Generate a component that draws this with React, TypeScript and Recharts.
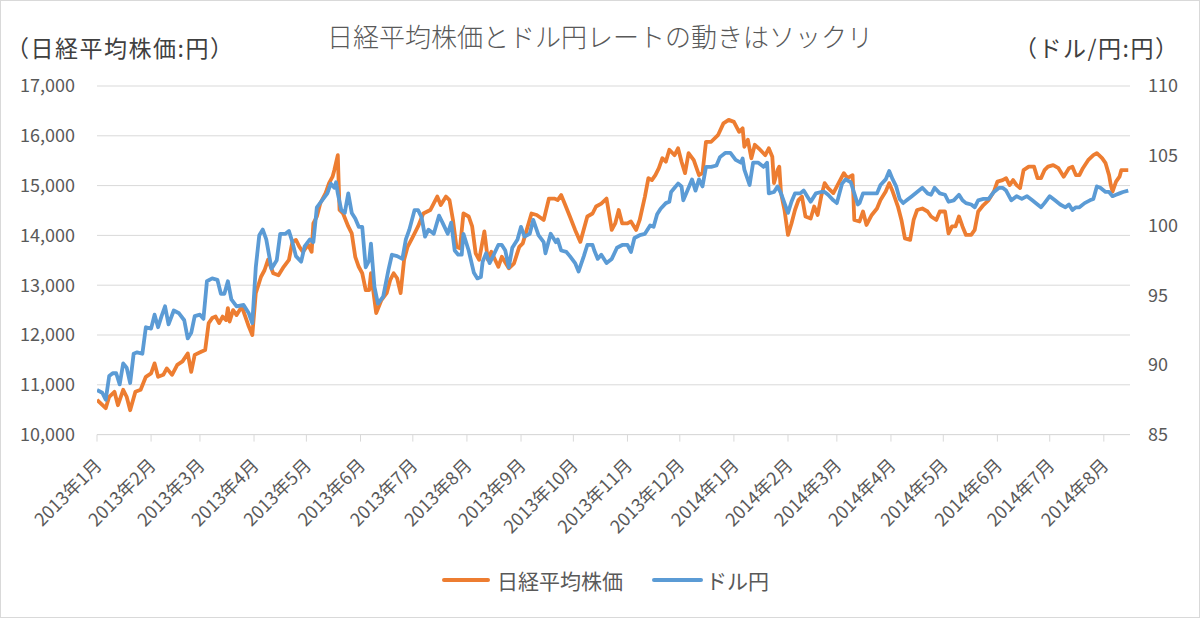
import React from 'react';
import { LineChart, Line, XAxis, YAxis, CartesianGrid } from 'recharts';

// Nikkei 225 closing levels (yen)
const nikkeiDates = [
  '2013-01-04', '2013-01-09', '2013-01-11', '2013-01-14', '2013-01-16', '2013-01-19', '2013-01-21', '2013-01-23',
  '2013-01-26', '2013-01-29', '2013-02-01', '2013-02-04', '2013-02-06', '2013-02-08', '2013-02-11', '2013-02-13',
  '2013-02-16', '2013-02-19', '2013-02-22', '2013-02-25', '2013-02-27', '2013-03-01', '2013-03-05', '2013-03-07',
  '2013-03-09', '2013-03-11', '2013-03-13', '2013-03-15', '2013-03-17', '2013-03-19', '2013-03-20', '2013-03-21',
  '2013-03-23', '2013-03-25', '2013-03-28', '2013-03-30', '2013-04-01', '2013-04-03', '2013-04-05', '2013-04-08',
  '2013-04-10', '2013-04-12', '2013-04-15', '2013-04-18', '2013-04-21', '2013-04-24', '2013-04-26', '2013-04-28',
  '2013-04-30', '2013-05-02', '2013-05-05', '2013-05-07', '2013-05-08', '2013-05-10', '2013-05-12', '2013-05-15',
  '2013-05-17', '2013-05-19', '2013-05-20', '2013-05-22', '2013-05-23', '2013-05-25', '2013-05-28', '2013-05-30',
  '2013-06-01', '2013-06-03', '2013-06-05', '2013-06-07', '2013-06-09', '2013-06-10', '2013-06-13', '2013-06-16',
  '2013-06-19', '2013-06-21', '2013-06-23', '2013-06-25', '2013-06-27', '2013-06-29', '2013-07-01', '2013-07-04',
  '2013-07-07', '2013-07-10', '2013-07-14', '2013-07-18', '2013-07-20', '2013-07-23', '2013-07-25', '2013-07-27',
  '2013-07-29', '2013-07-31', '2013-08-02', '2013-08-05', '2013-08-07', '2013-08-09', '2013-08-11', '2013-08-14',
  '2013-08-16', '2013-08-18', '2013-08-22', '2013-08-24', '2013-08-28', '2013-08-31', '2013-09-03', '2013-09-05',
  '2013-09-10', '2013-09-13', '2013-09-17', '2013-09-20', '2013-09-23', '2013-09-25', '2013-09-27', '2013-09-29',
  '2013-10-02', '2013-10-05', '2013-10-08', '2013-10-12', '2013-10-15', '2013-10-17', '2013-10-20', '2013-10-23',
  '2013-10-26', '2013-10-28', '2013-10-30', '2013-11-01', '2013-11-04', '2013-11-06', '2013-11-09', '2013-11-11',
  '2013-11-14', '2013-11-16', '2013-11-18', '2013-11-20', '2013-11-22', '2013-11-24', '2013-11-26', '2013-11-28',
  '2013-12-01', '2013-12-03', '2013-12-05', '2013-12-07', '2013-12-09', '2013-12-12', '2013-12-15', '2013-12-17',
  '2013-12-19', '2013-12-22', '2013-12-26', '2013-12-29', '2014-01-01', '2014-01-04', '2014-01-07', '2014-01-09',
  '2014-01-10', '2014-01-12', '2014-01-14', '2014-01-16', '2014-01-19', '2014-01-22', '2014-01-24', '2014-01-26',
  '2014-01-27', '2014-01-29', '2014-01-30', '2014-01-31', '2014-02-02', '2014-02-04', '2014-02-06', '2014-02-08',
  '2014-02-10', '2014-02-12', '2014-02-14', '2014-02-17', '2014-02-19', '2014-02-21', '2014-02-23', '2014-02-25',
  '2014-02-27', '2014-03-02', '2014-03-05', '2014-03-08', '2014-03-10', '2014-03-13', '2014-03-14', '2014-03-17',
  '2014-03-19', '2014-03-21', '2014-03-24', '2014-03-27', '2014-03-29', '2014-04-01', '2014-04-03', '2014-04-05',
  '2014-04-08', '2014-04-10', '2014-04-12', '2014-04-15', '2014-04-17', '2014-04-19', '2014-04-22', '2014-04-25',
  '2014-04-27', '2014-04-30', '2014-05-02', '2014-05-05', '2014-05-07', '2014-05-09', '2014-05-11', '2014-05-13',
  '2014-05-15', '2014-05-17', '2014-05-20', '2014-05-22', '2014-05-24', '2014-05-27', '2014-05-30', '2014-06-02',
  '2014-06-04', '2014-06-07', '2014-06-09', '2014-06-11', '2014-06-13', '2014-06-15', '2014-06-17', '2014-06-19',
  '2014-06-22', '2014-06-25', '2014-06-27', '2014-06-29', '2014-07-01', '2014-07-03', '2014-07-06', '2014-07-09',
  '2014-07-12', '2014-07-15', '2014-07-17', '2014-07-19', '2014-07-21', '2014-07-23', '2014-07-26', '2014-07-29',
  '2014-07-31', '2014-08-03', '2014-08-05', '2014-08-07', '2014-08-08', '2014-08-09', '2014-08-11', '2014-08-13',
  '2014-08-14', '2014-08-16', '2014-08-18',
];
const nikkeiValues = [
  10700, 10530, 10760, 10860, 10590, 10900, 10760, 10490,
  10860, 10900, 11160, 11230, 11430, 11160, 11200, 11330,
  11200, 11400, 11470, 11630, 11260, 11600, 11670, 11700,
  12240, 12340, 12370, 12240, 12370, 12300, 12540, 12270,
  12500, 12400, 12570, 12370, 12170, 12000, 12840, 13170,
  13300, 13510, 13240, 13200, 13370, 13510, 13870, 13910,
  13770, 13670, 13810, 13670, 14240, 14380, 14650, 14850,
  15050, 15180, 15310, 15610, 14510, 14440, 14180, 14040,
  13570, 13370, 13240, 12900, 12900, 13240, 12440, 12700,
  12840, 13100, 13240, 13140, 12840, 13510, 13770, 13970,
  14180, 14440, 14510, 14780, 14610, 14780, 14710, 14310,
  13770, 13740, 14440, 14380, 14180, 13640, 13510, 14080,
  13510, 13670, 13370, 13570, 13340, 13440, 13770, 13840,
  14440, 14410, 14310, 14740, 14740, 14710, 14810, 14640,
  14380, 14110, 13870, 14380, 14440, 14580, 14640, 14740,
  14110, 14240, 14510, 14240, 14240, 14280, 14110, 14310,
  14780, 15150, 15110, 15210, 15350, 15550, 15480, 15720,
  15610, 15750, 15480, 15250, 15650, 15510, 15210, 15250,
  15880, 15880, 16020, 16250, 16320, 16280, 16080, 16150,
  15780, 15920, 15550, 15820, 15720, 15610, 15750, 15580,
  15050, 15310, 15380, 14850, 14510, 14010, 14240, 14510,
  14710, 14780, 14380, 14340, 14580, 14410, 14780, 15050,
  14950, 14850, 15050, 15250, 15150, 15210, 14310, 14280,
  14480, 14210, 14410, 14540, 14710, 14880, 15050, 14880,
  14580, 14310, 13940, 13910, 14310, 14510, 14540, 14480,
  14380, 14310, 14480, 14480, 14040, 14180, 14180, 14380,
  14180, 14010, 14010, 14110, 14480, 14610, 14710, 14880,
  15080, 15110, 15150, 15010, 15110, 15010, 14950, 15310,
  15380, 15380, 15150, 15150, 15310, 15380, 15410, 15350,
  15180, 15350, 15380, 15210, 15210, 15350, 15510, 15610,
  15650, 15550, 15450, 15210, 15010, 14880, 15080, 15180,
  15310, 15310, 15310,
];

// USD/JPY rate (yen per dollar)
const usdJpyDates = [
  '2013-01-04', '2013-01-07', '2013-01-09', '2013-01-11', '2013-01-13', '2013-01-15', '2013-01-17', '2013-01-19',
  '2013-01-21', '2013-01-23', '2013-01-25', '2013-01-27', '2013-01-30', '2013-02-01', '2013-02-04', '2013-02-06',
  '2013-02-08', '2013-02-10', '2013-02-12', '2013-02-14', '2013-02-17', '2013-02-20', '2013-02-23', '2013-02-25',
  '2013-02-27', '2013-03-01', '2013-03-04', '2013-03-06', '2013-03-08', '2013-03-11', '2013-03-14', '2013-03-16',
  '2013-03-18', '2013-03-20', '2013-03-22', '2013-03-25', '2013-03-29', '2013-04-01', '2013-04-03', '2013-04-05',
  '2013-04-07', '2013-04-09', '2013-04-11', '2013-04-14', '2013-04-17', '2013-04-19', '2013-04-22', '2013-04-24',
  '2013-04-26', '2013-04-28', '2013-05-01', '2013-05-03', '2013-05-06', '2013-05-08', '2013-05-10', '2013-05-13',
  '2013-05-16', '2013-05-18', '2013-05-20', '2013-05-21', '2013-05-22', '2013-05-24', '2013-05-26', '2013-05-28',
  '2013-05-30', '2013-06-01', '2013-06-03', '2013-06-05', '2013-06-07', '2013-06-09', '2013-06-10', '2013-06-12',
  '2013-06-14', '2013-06-17', '2013-06-20', '2013-06-22', '2013-06-25', '2013-06-28', '2013-06-30', '2013-07-02',
  '2013-07-05', '2013-07-07', '2013-07-09', '2013-07-11', '2013-07-13', '2013-07-16', '2013-07-19', '2013-07-21',
  '2013-07-24', '2013-07-26', '2013-07-28', '2013-07-30', '2013-08-01', '2013-08-02', '2013-08-05', '2013-08-08',
  '2013-08-10', '2013-08-12', '2013-08-13', '2013-08-15', '2013-08-17', '2013-08-19', '2013-08-22', '2013-08-24',
  '2013-08-26', '2013-08-28', '2013-08-30', '2013-09-02', '2013-09-04', '2013-09-06', '2013-09-09', '2013-09-11',
  '2013-09-14', '2013-09-17', '2013-09-18', '2013-09-21', '2013-09-24', '2013-09-25', '2013-09-27', '2013-09-30',
  '2013-10-02', '2013-10-05', '2013-10-07', '2013-10-10', '2013-10-12', '2013-10-15', '2013-10-16', '2013-10-18',
  '2013-10-20', '2013-10-23', '2013-10-26', '2013-10-29', '2013-11-01', '2013-11-04', '2013-11-06', '2013-11-08',
  '2013-11-11', '2013-11-14', '2013-11-17', '2013-11-19', '2013-11-21', '2013-11-23', '2013-11-26', '2013-11-28',
  '2013-11-29', '2013-12-01', '2013-12-03', '2013-12-05', '2013-12-06', '2013-12-08', '2013-12-11', '2013-12-13',
  '2013-12-15', '2013-12-17', '2013-12-19', '2013-12-22', '2013-12-25', '2013-12-27', '2013-12-30', '2014-01-02',
  '2014-01-05', '2014-01-08', '2014-01-09', '2014-01-10', '2014-01-13', '2014-01-15', '2014-01-18', '2014-01-21',
  '2014-01-23', '2014-01-24', '2014-01-27', '2014-01-29', '2014-01-31', '2014-02-02', '2014-02-04', '2014-02-06',
  '2014-02-08', '2014-02-11', '2014-02-13', '2014-02-15', '2014-02-17', '2014-02-20', '2014-02-23', '2014-02-25',
  '2014-02-27', '2014-03-02', '2014-03-04', '2014-03-07', '2014-03-09', '2014-03-12', '2014-03-14', '2014-03-16',
  '2014-03-17', '2014-03-19', '2014-03-21', '2014-03-24', '2014-03-27', '2014-03-29', '2014-04-01', '2014-04-03',
  '2014-04-05', '2014-04-07', '2014-04-09', '2014-04-11', '2014-04-13', '2014-04-16', '2014-04-19', '2014-04-22',
  '2014-04-25', '2014-04-27', '2014-04-29', '2014-05-02', '2014-05-05', '2014-05-07', '2014-05-10', '2014-05-13',
  '2014-05-15', '2014-05-17', '2014-05-20', '2014-05-22', '2014-05-24', '2014-05-27', '2014-05-30', '2014-06-02',
  '2014-06-05', '2014-06-07', '2014-06-09', '2014-06-12', '2014-06-15', '2014-06-18', '2014-06-21', '2014-06-24',
  '2014-06-27', '2014-06-29', '2014-07-01', '2014-07-04', '2014-07-07', '2014-07-10', '2014-07-13', '2014-07-15',
  '2014-07-17', '2014-07-19', '2014-07-21', '2014-07-24', '2014-07-27', '2014-07-29', '2014-07-31', '2014-08-02',
  '2014-08-05', '2014-08-07', '2014-08-09', '2014-08-11', '2014-08-13', '2014-08-15', '2014-08-18',
];
const usdJpyValues = [
  88.2, 88.0, 87.5, 89.2, 89.4, 89.4, 88.6, 90.1,
  89.8, 88.7, 90.8, 90.9, 90.8, 92.7, 92.6, 93.6,
  92.7, 93.5, 94.2, 92.9, 93.9, 93.7, 93.2, 91.9,
  92.3, 93.5, 93.6, 93.3, 96.0, 96.2, 96.1, 95.1,
  95.1, 96.0, 94.7, 94.2, 94.3, 93.7, 93.0, 97.0,
  99.3, 99.7, 99.0, 96.9, 97.5, 99.4, 99.4, 99.6,
  98.8, 97.8, 97.4, 98.5, 99.0, 98.8, 101.3, 101.8,
  102.3, 103.0, 102.7, 103.1, 102.3, 101.1, 100.9, 102.3,
  100.9, 100.5, 99.9, 99.9, 97.0, 97.5, 98.7, 95.6,
  94.4, 94.9, 96.8, 97.9, 97.8, 97.6, 99.0, 99.7,
  101.1, 101.1, 100.6, 99.2, 99.7, 99.4, 100.7, 100.2,
  99.4, 100.2, 98.2, 97.9, 97.9, 99.4, 98.2, 96.6,
  96.2, 96.3, 97.4, 98.0, 97.3, 97.8, 98.6, 98.6,
  98.2, 97.0, 98.4, 99.0, 99.9, 99.2, 99.4, 100.4,
  99.3, 98.8, 98.0, 99.4, 98.8, 99.0, 98.2, 98.1,
  97.8, 97.3, 96.7, 97.8, 98.6, 98.6, 98.2, 97.6,
  97.9, 97.3, 97.6, 98.4, 98.6, 98.6, 98.1, 99.1,
  99.3, 99.4, 100.0, 99.9, 100.8, 101.2, 101.6, 101.7,
  102.4, 102.7, 103.0, 102.8, 101.8, 102.4, 103.3, 102.5,
  103.3, 102.8, 104.2, 104.2, 104.3, 104.9, 105.2, 105.2,
  104.7, 104.5, 104.8, 104.0, 102.9, 104.5, 104.5, 104.2,
  104.5, 102.3, 102.4, 102.8, 102.3, 101.6, 100.9, 101.7,
  102.3, 102.3, 102.5, 102.1, 101.7, 102.3, 102.4, 102.4,
  102.2, 101.8, 101.6, 103.0, 103.3, 103.1, 102.3, 101.5,
  101.6, 102.3, 102.3, 102.3, 102.3, 102.9, 103.3, 103.9,
  103.3, 102.8, 101.9, 101.6, 101.8, 102.1, 102.4, 102.7,
  102.3, 102.2, 102.7, 102.3, 102.2, 101.7, 101.8, 102.2,
  101.8, 101.6, 101.5, 101.3, 101.8, 101.9, 101.9, 102.4,
  102.7, 102.7, 102.5, 101.8, 102.1, 101.9, 102.1, 101.8,
  101.5, 101.3, 101.6, 102.1, 101.8, 101.5, 101.3, 101.5,
  101.1, 101.3, 101.3, 101.6, 101.8, 101.9, 102.8, 102.7,
  102.4, 102.4, 102.1, 102.2, 102.3, 102.4, 102.5,
];

// month ticks fall on the same day as the first trading day
const monthTickDates = [
  '2013-01-04', '2013-02-04', '2013-03-04', '2013-04-04', '2013-05-04', '2013-06-04', '2013-07-04',
  '2013-08-04', '2013-09-04', '2013-10-04', '2013-11-04', '2013-12-04', '2014-01-04', '2014-02-04',
  '2014-03-04', '2014-04-04', '2014-05-04', '2014-06-04', '2014-07-04', '2014-08-04',
];
const monthTickLabels = [
  '2013年1月', '2013年2月', '2013年3月', '2013年4月', '2013年5月', '2013年6月', '2013年7月',
  '2013年8月', '2013年9月', '2013年10月', '2013年11月', '2013年12月', '2014年1月', '2014年2月',
  '2014年3月', '2014年4月', '2014年5月', '2014年6月', '2014年7月', '2014年8月',
];
const nikkeiTicks = [10000, 11000, 12000, 13000, 14000, 15000, 16000, 17000];
const usdJpyTicks = [85, 90, 95, 100, 105, 110];

const START = Date.parse('2013-01-04');
const END_DATE = '2014-08-19';
const dayIndex = (d: string) => Math.round((Date.parse(d) - START) / 86400000);

const nikkeiSeries = nikkeiDates.map((d, i) => ({ day: dayIndex(d), value: nikkeiValues[i] }));
const usdJpySeries = usdJpyDates.map((d, i) => ({ day: dayIndex(d), value: usdJpyValues[i] }));
const monthTicks = monthTickDates.map(dayIndex);
const tickLabelByDay = new Map(monthTicks.map((t, i) => [t, monthTickLabels[i]]));

const FONT = '"Noto Sans CJK JP", "Noto Sans", sans-serif';
const TEXT = '#595959';
const GRID = '#d9d9d9';
const ORANGE = '#ED7D31';
const BLUE = '#5B9BD5';

function MonthTick(props: any) {
  const { x, y, payload } = props;
  const ax = x + 6;
  const ay = y + 23;
  return (
    <text
      x={ax}
      y={ay}
      textAnchor="end"
      transform={`rotate(-45 ${ax} ${ay})`}
      fill={TEXT}
      fontSize={18}
      fontFamily={FONT}
    >
      {tickLabelByDay.get(payload.value) ?? ''}
    </text>
  );
}

const abs = (style: React.CSSProperties): React.CSSProperties => ({
  position: 'absolute',
  whiteSpace: 'nowrap',
  fontFamily: FONT,
  ...style,
});

export default function App() {
  return (
    <div style={{ position: 'relative', width: 1200, height: 618, background: '#fff', fontFamily: FONT }}>
      <style>{'body{margin:0}'}</style>
      <LineChart width={1200} height={618} margin={{ top: 86, right: 0, left: 0, bottom: 83.4 }}>
        <CartesianGrid vertical={false} stroke={GRID} yAxisId="left" />
        <XAxis
          dataKey="day"
          type="number"
          domain={[0, dayIndex(END_DATE)]}
          allowDataOverflow
          ticks={monthTicks}
          interval={0}
          tick={<MonthTick />}
          tickSize={7}
          tickLine={{ stroke: GRID }}
          axisLine={{ stroke: GRID }}
          height={100}
        />
        <YAxis
          yAxisId="left"
          domain={[10000, 17000]}
          ticks={nikkeiTicks}
          tickFormatter={(v: number) => v.toLocaleString('en-US')}
          width={97}
          axisLine={false}
          tickLine={false}
          tickMargin={16}
          tick={{ fill: TEXT, fontSize: 18, fontFamily: FONT }}
        />
        <YAxis
          yAxisId="right"
          orientation="right"
          domain={[85, 110]}
          ticks={usdJpyTicks}
          width={70}
          axisLine={false}
          tickLine={false}
          tickMargin={12}
          tick={{ fill: TEXT, fontSize: 18, fontFamily: FONT }}
        />
        <Line
          data={nikkeiSeries}
          dataKey="value"
          yAxisId="left"
          type="linear"
          stroke={ORANGE}
          strokeWidth={3.8}
          strokeLinejoin="round"
          dot={false}
          isAnimationActive={false}
        />
        <Line
          data={usdJpySeries}
          dataKey="value"
          yAxisId="right"
          type="linear"
          stroke={BLUE}
          strokeWidth={3.8}
          strokeLinejoin="round"
          dot={false}
          isAnimationActive={false}
        />
      </LineChart>

      <div style={abs({ left: 0, width: 1200, top: 20, lineHeight: '32px', textAlign: 'center', fontSize: 26, fontWeight: 300, color: TEXT })}>
        日経平均株価とドル円レートの動きはソックリ
      </div>
      <div style={abs({ left: 6, top: 33, lineHeight: '28px', fontSize: 23, letterSpacing: 1.5, color: '#404040' })}>（日経平均株価:円）</div>
      <div style={abs({ left: 1014, top: 33, lineHeight: '28px', fontSize: 23, letterSpacing: 1.5, color: '#404040' })}>（ドル/円:円）</div>

      <div style={abs({ left: 442, top: 578, width: 48, height: 4, borderRadius: 2, background: ORANGE })} />
      <div style={abs({ left: 497, top: 566, lineHeight: '28px', fontSize: 21, color: TEXT })}>日経平均株価</div>
      <div style={abs({ left: 652, top: 578, width: 51, height: 4, borderRadius: 2, background: BLUE })} />
      <div style={abs({ left: 706, top: 566, lineHeight: '28px', fontSize: 21, color: TEXT })}>ドル円</div>

      <div style={abs({ left: 0, top: 0, width: 1198, height: 616, border: `1px solid ${GRID}`, pointerEvents: 'none' })} />
    </div>
  );
}
